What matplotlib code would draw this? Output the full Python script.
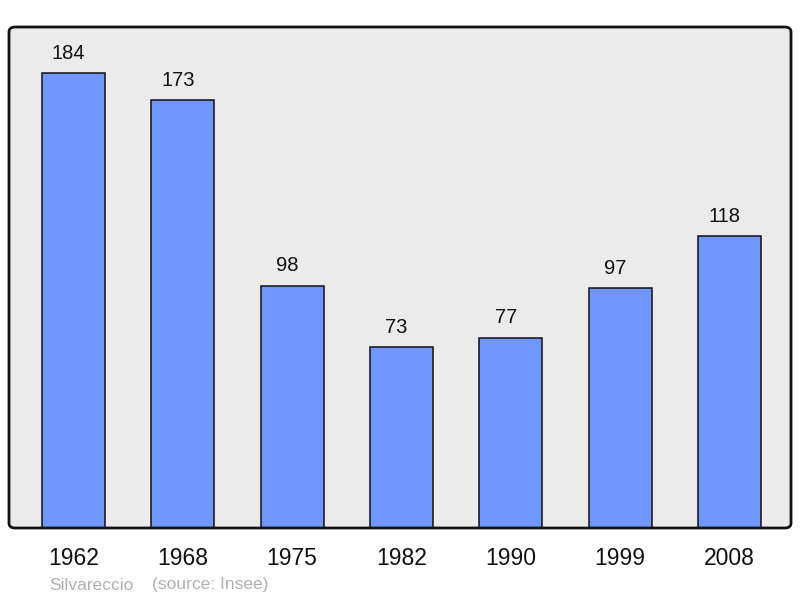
import matplotlib
matplotlib.use("Agg")
import matplotlib.pyplot as plt
from matplotlib.patches import FancyBboxPatch

years = ["1962", "1968", "1975", "1982", "1990", "1999", "2008"]
population = [184, 173, 98, 73, 77, 97, 118]
commune = "Silvareccio"
source = "(source: Insee)"

plt.rcParams['font.family'] = ['Liberation Sans', 'DejaVu Sans']

fig = plt.figure(figsize=(8, 5.98), dpi=100)
left, bottom, right, top = 9/800, 70/598, 791/800, 571/598
ax = fig.add_axes([left, bottom, right - left, top - bottom])
ax.set_facecolor('none')

# rounded background frame (fill behind, edge on top)
bg = FancyBboxPatch((left, bottom), right - left, top - bottom,
                    boxstyle="round,pad=0,rounding_size=0.008",
                    transform=fig.transFigure, facecolor='#ebebeb',
                    edgecolor='none', zorder=-5)
fig.patches.append(bg)
edge = FancyBboxPatch((left, bottom), right - left, top - bottom,
                      boxstyle="round,pad=0,rounding_size=0.008",
                      transform=fig.transFigure, facecolor='none',
                      edgecolor='#111111', linewidth=2, zorder=5)
fig.patches.append(edge)

x = list(range(len(years)))
bars = ax.bar(x, population, width=0.578, color='#7097ff',
              edgecolor='#111111', linewidth=1.1, zorder=2)

for xi, v in zip(x, population):
    ax.annotate(str(v), (xi, v), xytext=(-3.6, 7.5), textcoords='offset points',
                ha='center', va='bottom', fontsize=14.5, color='#111111')

ax.set_xlim(-0.59, 6.563)
ax.set_ylim(0, 202.6)
for s in ax.spines.values():
    s.set_visible(False)
ax.set_yticks([])
ax.set_xticks(x)
ax.set_xticklabels(years, fontsize=16.5, color='#111111')
ax.tick_params(axis='x', length=0, pad=13.5)

fig.text(49/800, 1 - 585/598, commune, fontsize=12.5, color='#b0b0b0',
         ha='left', va='center')
fig.text(152/800, 1 - 585/598, source, fontsize=12.5, color='#b0b0b0',
         ha='left', va='center')

fig.savefig("out.png", dpi=100)
